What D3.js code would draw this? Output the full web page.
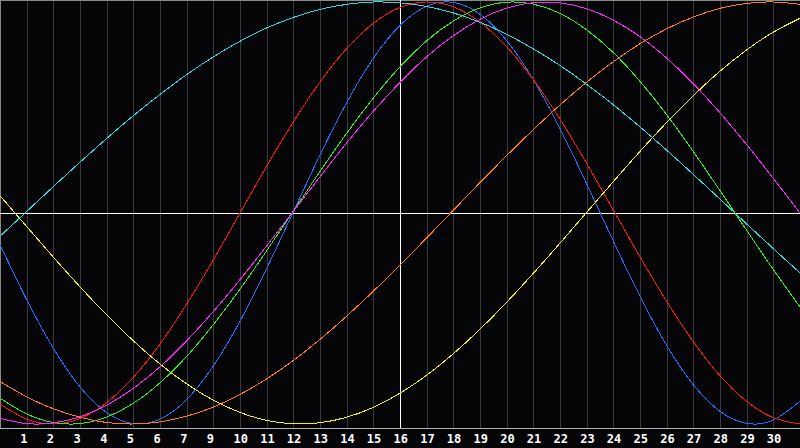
<!DOCTYPE html>
<html>
<head>
<meta charset="utf-8">
<script src="https://cdn.jsdelivr.net/npm/d3@7"></script>
<style>
  html, body { margin: 0; padding: 0; background: #050508; }
  svg { display: block; }
</style>
</head>
<body>
<svg id="chart" width="800" height="448"></svg>
<script>
// Tick labels along the bottom (label "8" is absent in the reference), at gridlines 1..29
const tickLabels = ["1","2","3","4","5","6","7","9","10","11","12","13","14","15","16",
  "17","18","19","20","21","22","23","24","25","26","27","28","29","30"];

// Sample positions (gridline index 0..30)
const steps = d3.range(0, 31);

// Curve values in [-1, 1] at each gridline
const blueValues = [-0.150,-0.411,-0.641,-0.824,-0.946,-0.998,-0.977,-0.884,-0.725,-0.513,-0.263,0.006,0.275,0.523,0.733,0.889,0.980,0.998,0.942,0.817,0.632,0.400,0.138,-0.133,-0.395,-0.628,-0.814,-0.940,-0.997,-0.981,-0.892];
const redValues = [-0.905,-0.977,-1.000,-0.974,-0.899,-0.779,-0.621,-0.432,-0.222,0.000,0.222,0.432,0.621,0.779,0.899,0.974,1.000,0.977,0.905,0.788,0.632,0.445,0.235,0.014,-0.208,-0.419,-0.610,-0.771,-0.893,-0.970,-1.000];
const greenValues = [-0.878,-0.952,-0.993,-0.998,-0.967,-0.902,-0.805,-0.680,-0.529,-0.361,-0.179,0.009,0.197,0.378,0.545,0.693,0.816,0.910,0.972,0.999,0.990,0.946,0.868,0.760,0.624,0.466,0.291,0.106,-0.082,-0.268,-0.445];
const magentaValues = [-0.973,-0.998,-0.995,-0.966,-0.911,-0.831,-0.729,-0.606,-0.467,-0.316,-0.156,0.008,0.172,0.332,0.482,0.619,0.740,0.840,0.918,0.971,0.997,0.996,0.968,0.914,0.836,0.734,0.613,0.475,0.324,0.164,0.000];
const yellowValues = [0.082,-0.064,-0.209,-0.350,-0.483,-0.606,-0.716,-0.810,-0.887,-0.945,-0.983,-0.999,-0.994,-0.968,-0.921,-0.854,-0.769,-0.667,-0.551,-0.423,-0.286,-0.143,0.003,0.149,0.292,0.429,0.556,0.672,0.773,0.857,0.923];
const orangeValues = [-0.799,-0.871,-0.928,-0.968,-0.993,-1.000,-0.990,-0.963,-0.920,-0.860,-0.786,-0.699,-0.599,-0.489,-0.371,-0.247,-0.118,0.013,0.144,0.272,0.395,0.512,0.620,0.717,0.802,0.873,0.929,0.970,0.993,1.000,0.989];
const cyanValues = [-0.110,0.007,0.125,0.241,0.353,0.461,0.562,0.656,0.740,0.814,0.877,0.927,0.965,0.989,1.000,0.996,0.979,0.948,0.904,0.847,0.778,0.699,0.610,0.513,0.408,0.298,0.183,0.066,-0.052,-0.169,-0.284];

const seriesNames = ["blue","red","green","magenta","orange","yellow","cyan"];
const seriesColors = ["#1f6fff","#ff1414","#2af01a","#ff22ff","#ff7a10","#f4f400","#22e0e0"];
const seriesValues = [blueValues, redValues, greenValues, magentaValues, orangeValues, yellowValues, cyanValues];

const W = 800, plotH = 428;
const svg = d3.select("#chart");

svg.append("rect").attr("width", W).attr("height", 448).attr("fill", "#050508");

const x = d3.scaleLinear().domain([0, 30]).range([0, W]);
const y = d3.scaleLinear().domain([-1, 1]).range([424, 2]);

// vertical gridlines
const gridIdx = d3.range(1, 30);
svg.append("g")
  .selectAll("line")
  .data(gridIdx.filter(d => d !== 15))
  .join("line")
  .attr("x1", d => Math.round(x(d)) + 0.5)
  .attr("x2", d => Math.round(x(d)) + 0.5)
  .attr("y1", 0).attr("y2", plotH)
  .attr("stroke", "#3a3a3e").attr("stroke-width", 1);

// frame (top and left)
svg.append("line").attr("x1", 0).attr("x2", W).attr("y1", 0.5).attr("y2", 0.5)
  .attr("stroke", "#8a8a8a").attr("stroke-width", 1);
svg.append("line").attr("x1", 0.5).attr("x2", 0.5).attr("y1", 0).attr("y2", plotH)
  .attr("stroke", "#8a8a8a").attr("stroke-width", 1);

// crosshair
svg.append("line").attr("x1", 0).attr("x2", W)
  .attr("y1", Math.round(y(0)) + 0.5).attr("y2", Math.round(y(0)) + 0.5)
  .attr("stroke", "#ffffff").attr("stroke-width", 1);
svg.append("line").attr("x1", Math.round(x(15)) + 0.5).attr("x2", Math.round(x(15)) + 0.5)
  .attr("y1", 0).attr("y2", plotH)
  .attr("stroke", "#ffffff").attr("stroke-width", 1);

// bottom axis line
svg.append("line").attr("x1", 0).attr("x2", W).attr("y1", plotH + 0.5).attr("y2", plotH + 0.5)
  .attr("stroke", "#b4b4b4").attr("stroke-width", 1);

// curves
const line = d3.line()
  .x((d, i) => x(steps[i]))
  .y(d => y(d))
  .curve(d3.curveNatural);

svg.append("g")
  .selectAll("path")
  .data(seriesValues)
  .join("path")
  .attr("d", d => line(d))
  .attr("fill", "none")
  .attr("stroke", (d, i) => seriesColors[i])
  .attr("stroke-width", 1)
  .attr("shape-rendering", "crispEdges");

// tick labels
const axisG = svg.append("g");
axisG.selectAll("text")
  .data(tickLabels)
  .join("text")
  .attr("x", (d, i) => x(i + 1) - 6.5)
  .attr("y", 443)
  .attr("text-anchor", "start")
  .attr("fill", "#ffffff")
  .attr("font-family", "'DejaVu Sans Mono', monospace")
  .attr("font-weight", "bold")
  .attr("font-size", "12px")
  .text(d => d);
</script>
</body>
</html>
